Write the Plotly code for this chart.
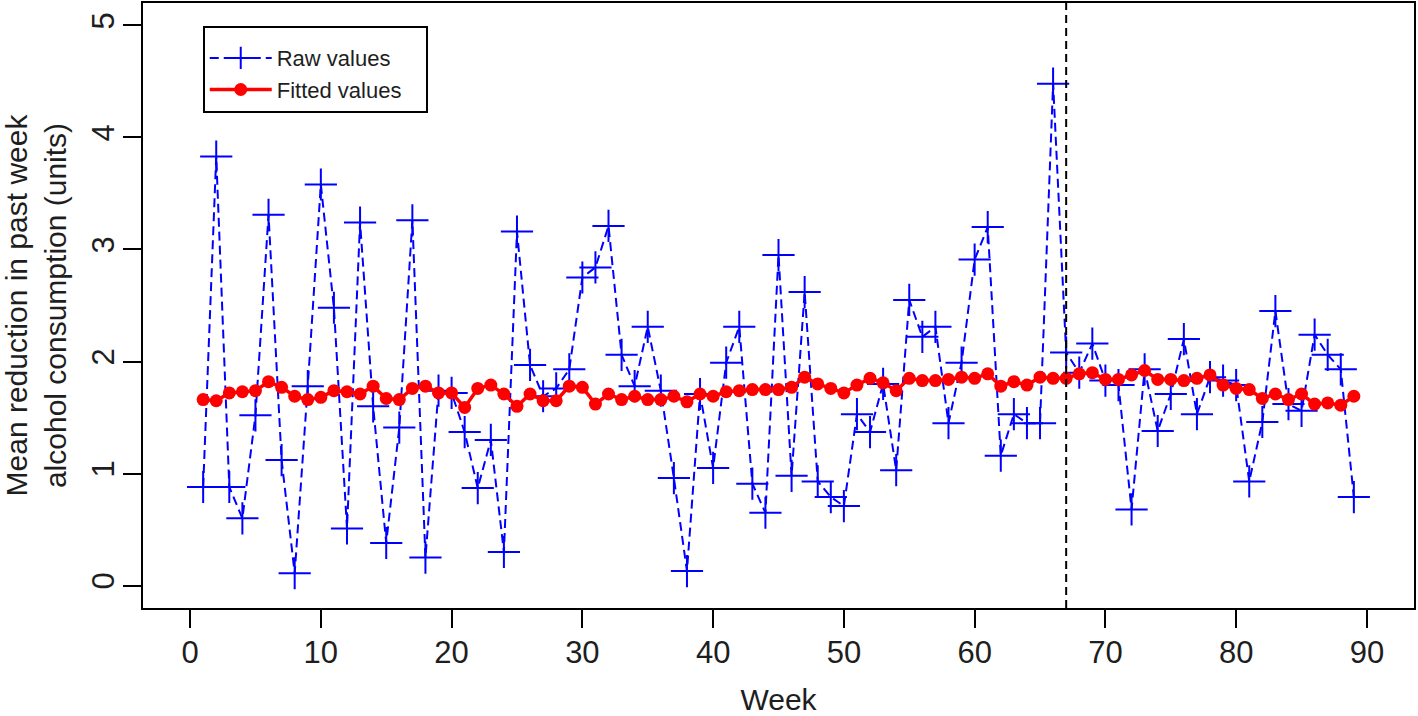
import plotly.graph_objects as go

# weekly data
weeks = list(range(1, 90))

raw_values = [
    0.88, 3.83, 0.88, 0.60, 1.52, 3.31, 1.12, 0.11, 1.78, 3.58,
    2.48, 0.51, 3.24, 1.60, 0.38, 1.41, 3.26, 0.25, 1.74, 1.72,
    1.37, 0.87, 1.30, 0.30, 3.16, 1.97, 1.69, 1.76, 1.93, 2.75,
    2.84, 3.21, 2.06, 1.78, 2.31, 1.74, 0.96, 0.13, 1.71, 1.05,
    1.99, 2.31, 0.91, 0.65, 2.95, 0.98, 2.62, 0.93, 0.79, 0.71,
    1.53, 1.37, 1.80, 1.03, 2.55, 2.22, 2.31, 1.45, 1.99, 2.91,
    3.20, 1.16, 1.53, 1.45, 1.45, 4.48, 2.08, 1.90, 2.16, 1.83,
    1.79, 0.68, 1.93, 1.38, 1.71, 2.20, 1.53, 1.86, 1.83, 1.79,
    0.93, 1.46, 2.45, 1.62, 1.56, 2.24, 2.06, 1.93, 0.79,
]

fitted_values = [
    1.66, 1.65, 1.72, 1.73, 1.74, 1.82, 1.77, 1.69, 1.66, 1.68,
    1.74, 1.73, 1.71, 1.78, 1.67, 1.66, 1.76, 1.78, 1.72, 1.72,
    1.59, 1.76, 1.79, 1.71, 1.60, 1.71, 1.65, 1.65, 1.78, 1.77,
    1.62, 1.71, 1.66, 1.69, 1.66, 1.66, 1.69, 1.64, 1.71, 1.69,
    1.73, 1.74, 1.75, 1.75, 1.75, 1.77, 1.86, 1.80, 1.76, 1.72,
    1.79, 1.85, 1.81, 1.74, 1.85, 1.83, 1.83, 1.84, 1.86, 1.85,
    1.89, 1.78, 1.82, 1.79, 1.86, 1.85, 1.85, 1.89, 1.90, 1.84,
    1.84, 1.88, 1.92, 1.84, 1.84, 1.83, 1.85, 1.88, 1.79, 1.76,
    1.75, 1.67, 1.71, 1.66, 1.71, 1.62, 1.63, 1.61, 1.69,
]

cutoff_week = 67

x_ticks = [0, 10, 20, 30, 40, 50, 60, 70, 80, 90]
y_ticks = [0, 1, 2, 3, 4, 5]

FONT = "Liberation Sans, Arial, sans-serif"
INK = "#1e1e1e"
PAD = "\u00a0\u00a0\u00a0"  # a bit of right padding inside the legend box

fig = go.Figure()

fig.add_trace(go.Scatter(
    x=weeks, y=raw_values, name="Raw values" + PAD,
    mode="lines+markers",
    line=dict(color="#0000ff", width=2, dash="9px,5px"),
    marker=dict(symbol="cross-thin", size=23, line=dict(color="#0000ff", width=2)),
))

fig.add_trace(go.Scatter(
    x=weeks, y=fitted_values, name="Fitted values" + PAD,
    mode="lines+markers",
    line=dict(color="#ff0000", width=3.5),
    marker=dict(symbol="circle", size=13, color="#ff0000"),
))

fig.add_vline(x=cutoff_week, line=dict(color="black", width=2, dash="8px,5px"))

axis_common = dict(
    showline=True, linecolor="black", linewidth=2, mirror=True,
    ticks="outside", ticklen=18, tickwidth=2, tickcolor="black",
    showgrid=False, zeroline=False, automargin=False,
    tickfont=dict(size=31, color=INK, family=FONT),
)

fig.update_xaxes(
    range=[-3.6, 93.6], tickvals=x_ticks, ticklabelstandoff=-2,
    title=dict(text="Week", font=dict(size=30, color=INK, family=FONT), standoff=25),
    **axis_common,
)
fig.update_yaxes(
    range=[-0.2, 5.2], tickvals=y_ticks, tickangle=-90, ticklabelstandoff=-3,
    title=dict(text="Mean reduction in past week<br>alcohol consumption (units)",
               font=dict(size=30, color=INK, family=FONT), standoff=30),
    **axis_common,
)

fig.update_layout(
    width=1418, height=716,
    margin=dict(l=143, r=4, t=3, b=108),
    paper_bgcolor="white", plot_bgcolor="white",
    font=dict(family=FONT, color=INK),
    legend=dict(
        x=0.047, y=0.962, xanchor="left", yanchor="top",
        bordercolor="black", borderwidth=2, bgcolor="white",
        font=dict(size=22, color=INK, family=FONT),
        title=dict(text=" ", font=dict(size=7)),
        itemwidth=62, tracegroupgap=0,
    ),
)

# drop the page's default body margin so the figure sits at the window corner
fig.write_html("out.html", config={"displayModeBar": False},
               post_script="document.body.style.margin='0';")
